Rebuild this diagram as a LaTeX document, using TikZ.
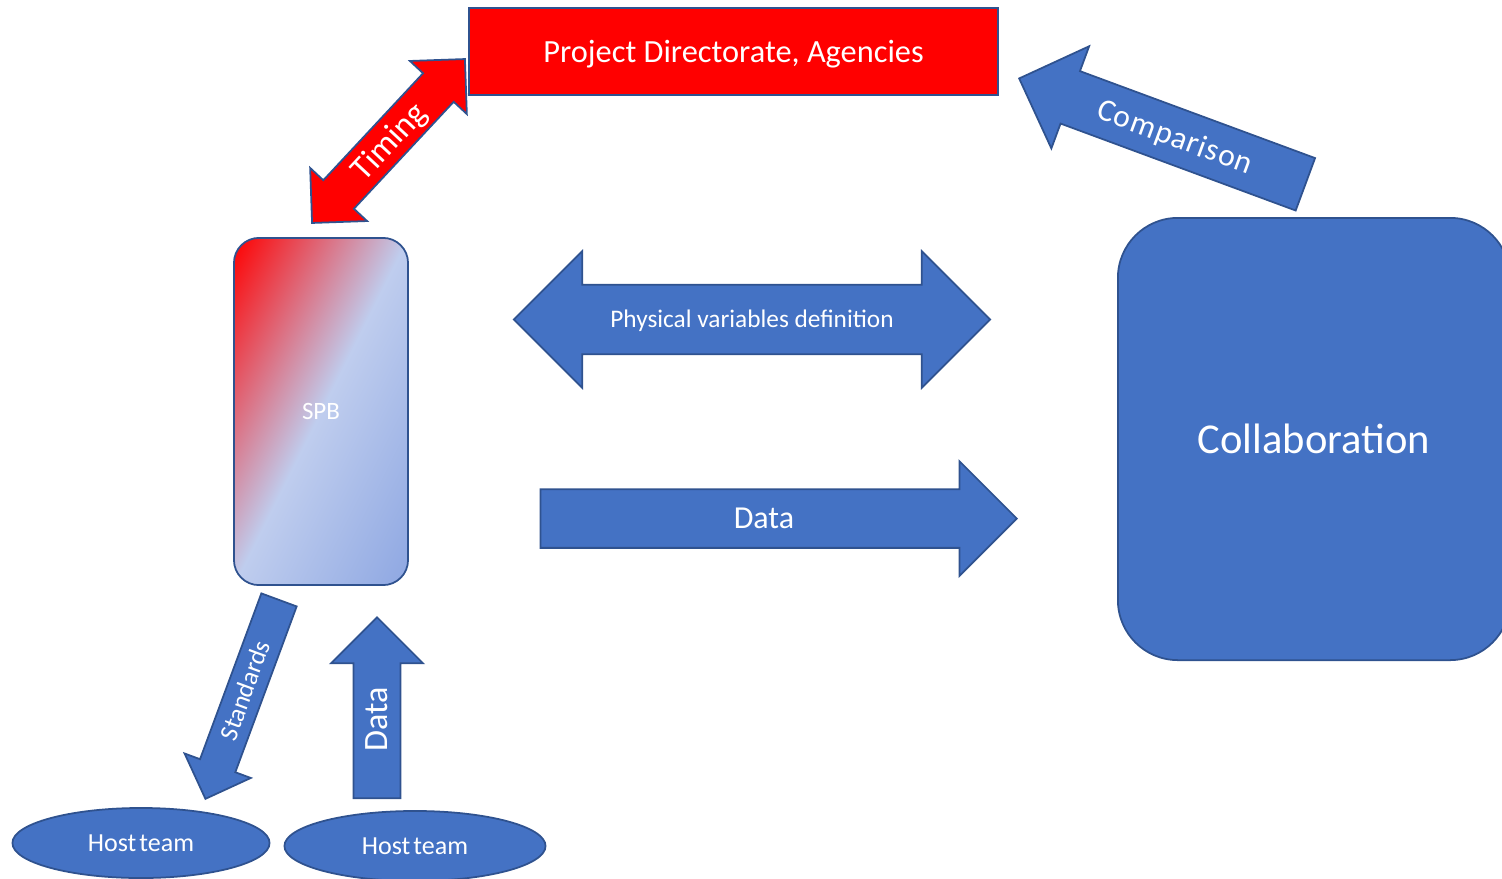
\documentclass[tikz,border=0pt]{standalone}
\usepackage{fontspec}
\setmainfont{Carlito}
\usetikzlibrary{shapes.arrows,shapes.geometric}
\definecolor{pblue}{HTML}{4472C4}
\definecolor{edge}{HTML}{2F528F}
\definecolor{spblight}{HTML}{BFCDEE}
\definecolor{spbdark}{HTML}{8EA7E2}
\begin{document}
\begin{tikzpicture}[x=0.01cm,y=-0.01cm]
    \tikzset{box/.style = {draw=edge,line width=0.5pt,text=white,inner sep=0pt},
        barrow/.style = {single arrow,draw=edge,fill=pblue,line width=0.5pt,text=white,
            inner sep=0pt,minimum width=0pt,single arrow head indent=0pt},
        darrow/.style = {double arrow,draw=edge,line width=0.5pt,text=white,
            inner sep=0pt,minimum width=0pt,double arrow head indent=0pt},
        host/.style = {ellipse,draw=edge,fill=pblue,line width=0.5pt,text=white,inner sep=0pt,
            minimum width=2.57cm,minimum height=0.7cm,font=\fontsize{7.4}{9}\selectfont}};
    \useasboundingbox (0,0) rectangle (1502,878);
    \clip (0,0) rectangle (1502,878);
    % boxes
    \node[box,fill=red,minimum width=5.29cm,minimum height=0.87cm,text height=0.8em,text depth=0.2em,
        font=\fontsize{9.2}{11}\selectfont] (proj) at (733.5,51.5) {Project Directorate, Agencies};
    % gradient of the SPB box, corner to corner
    \begin{scope}
        \clip[rounded corners=0.25cm] (234,238) rectangle (408,585);
        \shade[transform canvas={shift={(321,411.5)},rotate=-26.6},left color=red,
            right color=spbdark,middle color=spblight] (-155.5,-300) rectangle (155.5,300);
    \end{scope}
    \node[box,rounded corners=0.25cm,minimum width=1.74cm,minimum height=3.47cm,
        font=\fontsize{7.1}{8}\selectfont] (spb) at (321,411.5) {SPB};
    \node[box,fill=pblue,rounded corners=0.6cm,minimum width=3.92cm,minimum height=4.42cm,
        font=\fontsize{12.1}{14}\selectfont] (collab) at (1314,439) {Collaboration};
    \node[host] (hostA) at (141,843) {Host\hspace{0.12em}team};
    \node[host,minimum width=2.61cm] (hostB) at (415,846) {Host\hspace{0.12em}team};
    % block arrows
    \node[darrow,fill=red,rotate=47,minimum height=2.24cm,double arrow head extend=0.18cm,
        text height=8.8pt,text depth=2.6pt,font=\fontsize{9.6}{11}\selectfont] (timing) at (388.5,141) {Timing};
    \node[darrow,fill=pblue,minimum height=4.76cm,double arrow head extend=0.335cm,
        text height=11.95pt,text depth=7.35pt,font=\fontsize{7.2}{9}\selectfont] (physvar) at (752,319.5) {Physical variables definition};
    \node[barrow,anchor=tip,minimum height=4.76cm,single arrow head extend=0.28cm,
        text height=11pt,text depth=5.2pt,font=\fontsize{9.1}{11}\selectfont] (datah) at (1018,518.5) {Data};
    \node[barrow,anchor=tip,rotate=-20.3,shape border rotate=180,minimum height=3.05cm,
        single arrow head extend=0.265cm,text height=10.7pt,text depth=4.7pt,
        font=\fontsize{9}{11}\selectfont\addfontfeatures{LetterSpace=3}] (compare) at (1018,78) {Comparison};
    \node[barrow,anchor=tip,rotate=69.7,shape border rotate=180,minimum height=2.12cm,
        single arrow head extend=0.165cm,text height=7.4pt,text depth=2.8pt,
        font=\fontsize{7.3}{9}\selectfont] (standards) at (205,800) {Standards};
    \node[barrow,anchor=tip,rotate=90,minimum height=1.81cm,single arrow head extend=0.225cm,
        text height=9.5pt,text depth=3.3pt,font=\fontsize{9.7}{11}\selectfont] (datav) at (377,616) {Data};
\end{tikzpicture}
\end{document}
